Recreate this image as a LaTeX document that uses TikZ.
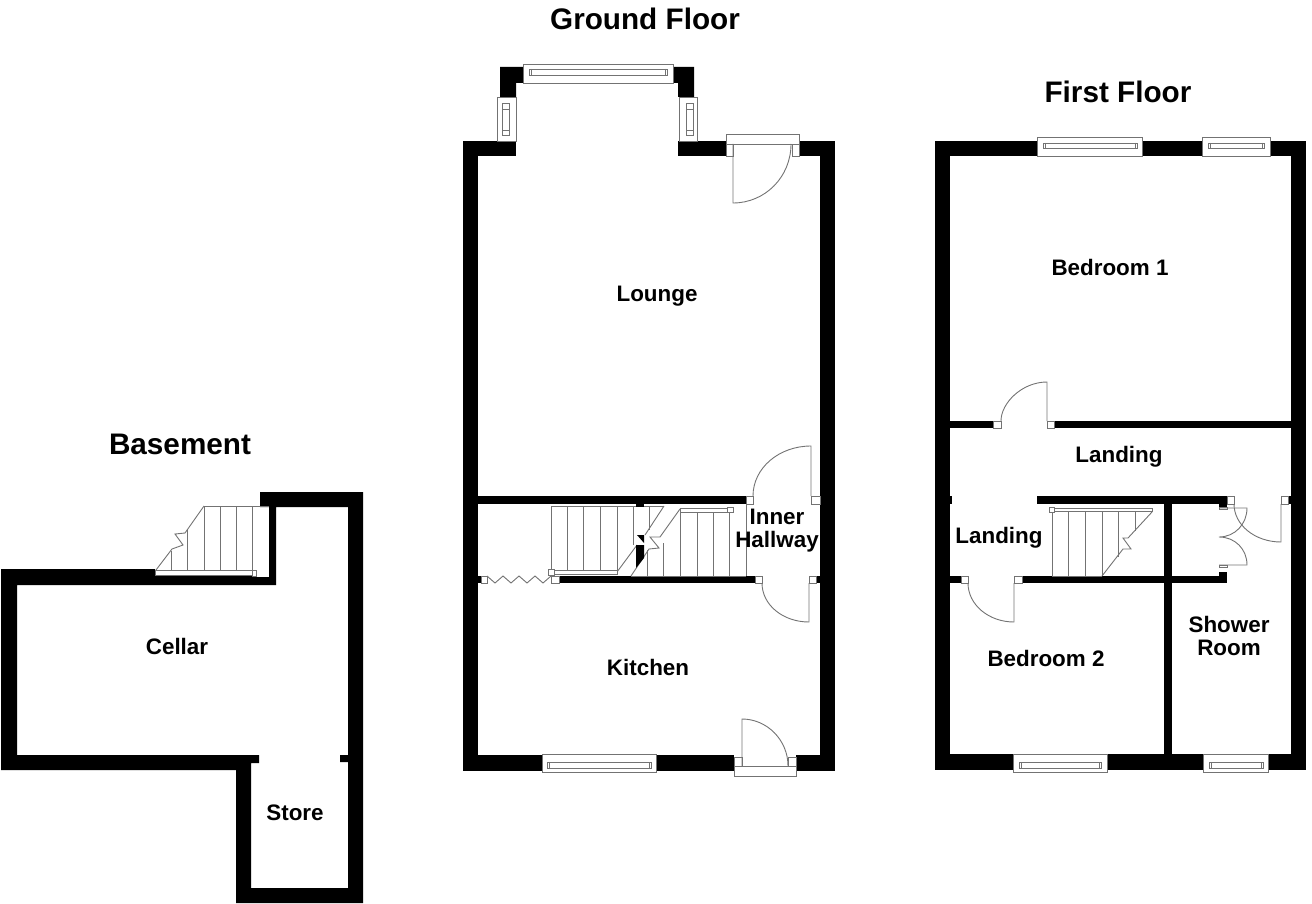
\documentclass[tikz,border=0pt]{standalone}
\usepackage{fontspec}
\setmainfont{Liberation Sans}
\tikzset{
  wall/.style={fill=black,draw=none},
  fine/.style={draw=black!55,line width=0.9pt,line join=miter},
  frame/.style={draw=black!55,line width=0.9pt,fill=white},
  title/.style={font=\fontsize{29.7}{32}\selectfont\bfseries,text=black,inner sep=0pt},
  room/.style={font=\fontsize{22.4}{22}\selectfont\bfseries,text=black,inner sep=0pt,align=center},
}
\newcommand{\wallbox}[4]{\fill[wall] (#1,#2) rectangle (#3,#4);}
\newcommand{\fbx}[4]{\draw[frame] (#1,#2) rectangle (#3,#4);}
\begin{document}
\begin{tikzpicture}[x=1pt,y=-1pt]
\useasboundingbox (0,0) rectangle (1312,904);

% ---------- Basement ----------
\fill[wall,even odd rule]
  (1,569) -- (155,569) -- (155,575) -- (256,575) -- (256,577) -- (269,577) -- (269,507) -- (260,507) -- (260,492) -- (363,492) -- (363,903) -- (236,903) -- (236,770) -- (1,770) -- cycle
  (17,585) -- (276,585) -- (276,507) -- (348,507) -- (348,755) -- (340,755) -- (340,762) -- (348,762) -- (348,888) -- (251,888) -- (251,763) -- (259,763) -- (259,755) -- (17,755) -- cycle;
% cellar stairs
\draw[fine] (204,506) -- (269,506);
\draw[fine] (171,570) -- (171,551);
\draw[fine] (187,570) -- (187,530);
\draw[fine] (204,570) -- (204,506);
\draw[fine] (220,570) -- (220,506);
\draw[fine] (236,570) -- (236,506);
\draw[fine] (252,570) -- (252,506);
\draw[fine] (156,570) -- (172,549) -- (183,545) -- (175,534) -- (185,533) -- (204,506);
\draw[frame] (155,570) rectangle (252,575);
\fbx{252}{570}{256}{576}

% ---------- Ground floor ----------
\wallbox{463}{141}{478}{771}
\wallbox{820}{141}{835}{771}
\wallbox{463}{141}{516}{156}
\wallbox{678}{141}{726}{156}
\wallbox{799}{141}{835}{156}
\fill[wall] (500,67) -- (523,67) -- (523,83) -- (516,83) -- (516,97) -- (500,97) -- cycle;
\fill[wall] (673,67) -- (694,67) -- (694,97) -- (678,97) -- (678,83) -- (673,83) -- cycle;
% bay windows
\fbx{523}{64}{673}{83}
\fbx{529}{69}{667}{75}
\draw[fine] (531,69) -- (531,75) (665,69) -- (665,75);
\fbx{497}{97}{516}{141}
\fbx{502}{103}{509}{135}
\draw[fine] (502,109) -- (509,109) (502,130) -- (509,130) ;
\fbx{679}{97}{697}{141}
\fbx{686}{103}{693}{135}
\draw[fine] (686,109) -- (693,109) (686,130) -- (693,130);
% lounge door
\fbx{726}{134}{799}{144}
\fbx{726}{144}{733}{156}
\fbx{792}{144}{799}{156}
\draw[fine] (733,144) -- (733,203) .. controls (765,203) and (791,177) .. (791,144);
% internal walls
\wallbox{478}{496}{746}{504}
\wallbox{559}{576}{755}{583}
\wallbox{478}{576}{481}{583}
\wallbox{816}{576}{820}{583}
\fbx{746}{496}{753}{504}
\fbx{811}{496}{820}{504}
\fbx{755}{576}{762}{583}
\fbx{809}{576}{816}{583}
\fbx{551}{576}{559}{583}
\fbx{481}{576}{487}{583}
\draw[fine] (753,496) .. controls (753,468) and (779,446) .. (811,446) -- (811,496);
\draw[fine] (762,583) .. controls (762,605) and (783,622) .. (809,622) -- (809,583);
% bifold
\draw[fine] (487,576) -- (495,583) -- (503,576) -- (511,583) -- (519,576) -- (527,583) -- (535,576) -- (543,583) -- (551,576);
% stairs: first flight
\draw[fine] (551,506) -- (664,506);
\foreach \x in {551,567,583,600,617} {\draw[fine] (\x,506) -- (\x,570);}
\draw[fine] (633,506) -- (633,545);
\draw[fine] (649,506) -- (649,530);
\draw[fine] (664,506) -- (645,535) (637,545) -- (617,572);
\draw[frame] (551,570) rectangle (617,574);
\fbx{548}{569}{554}{575}
% stairs: second flight
\draw[fine] (631,576) -- (746,576);
\draw[fine] (680,510) -- (680,576);
\draw[fine] (697,510) -- (697,576);
\draw[fine] (713,510) -- (713,576);
\draw[fine] (729,510) -- (729,576);
\draw[fine] (746,504) -- (746,576);
\draw[fine] (663,543) -- (663,576);
\draw[fine] (647,550) -- (647,576);
\draw[frame] (680,508) rectangle (729,512);
\fbx{727}{507}{733}{512}
\draw[fine] (680,509) -- (660,537) -- (650,537) -- (659,548) -- (649,549) -- (631,576);
% central pier
\fill[wall] (636,504) -- (644,504) -- (644,507) -- (636,507) -- cycle;
\fill[wall] (636,545) -- (644,545) -- (644,558) -- (636,568) -- cycle;
\fill[wall] (637,535) -- (644,535) -- (644,543) -- cycle;
% kitchen wall
\wallbox{463}{755}{542}{771}
\wallbox{656}{755}{734}{771}
\wallbox{796}{755}{835}{771}
\fbx{542}{754}{656}{772}
\fbx{547}{762}{651}{768}
\draw[fine] (549,762) -- (549,768) (649,762) -- (649,768);
\fbx{734}{766}{796}{776}
\fbx{734}{757}{742}{766}
\fbx{788}{757}{796}{766}
\draw[fine] (742,766) -- (742,719) .. controls (767,719) and (788,740) .. (788,766);

% ---------- First floor ----------
\wallbox{935}{141}{950}{770}
\wallbox{1291}{141}{1306}{770}
\wallbox{935}{141}{1306}{156}
\wallbox{935}{754}{1306}{770}
\fbx{1037}{137}{1142}{156}
\fbx{1043}{143}{1137}{148}
\draw[fine] (1045,143) -- (1045,148) (1135,143) -- (1135,148);
\fbx{1202}{137}{1270}{156}
\fbx{1208}{143}{1264}{148}
\draw[fine] (1210,143) -- (1210,148) (1262,143) -- (1262,148);
\fbx{1013}{754}{1107}{772}
\fbx{1019}{762}{1101}{768}
\draw[fine] (1021,762) -- (1021,768) (1099,762) -- (1099,768);
\fbx{1203}{754}{1268}{772}
\fbx{1209}{762}{1263}{768}
\draw[fine] (1211,762) -- (1211,768) (1261,762) -- (1261,768);
% bedroom 1 wall
\wallbox{950}{421}{993}{428}
\wallbox{1054}{421}{1291}{428}
\fbx{993}{421}{1001}{428}
\fbx{1047}{421}{1054}{428}
\draw[fine] (1001,421) .. controls (1001,403) and (1022,382) .. (1047,382) -- (1047,421);
% landing walls
\wallbox{950}{496}{952}{504}
\wallbox{1037}{496}{1227}{504}
\wallbox{1219}{504}{1227}{507}
\wallbox{1164}{504}{1172}{754}
\wallbox{950}{576}{961}{583}
\wallbox{1022}{576}{1227}{583}
\wallbox{1219}{572}{1227}{576}
\wallbox{1288}{496}{1291}{504}
\fbx{961}{576}{968}{583}
\fbx{1014}{576}{1022}{583}
\fbx{1227}{496}{1234}{504}
\fbx{1281}{496}{1288}{504}
\draw[fine] (968,583) .. controls (968,605) and (989,622) .. (1014,622) -- (1014,583);
\draw[fine] (1234,504) .. controls (1234,525) and (1255,542) .. (1281,542) -- (1281,504);
% double doors
\draw[frame] (1219,507) rectangle (1227,509);
\draw[fine] (1219,508) -- (1247,508) .. controls (1247,524) and (1235,537) .. (1219,537)
  .. controls (1235,537) and (1247,549) .. (1247,565) -- (1219,565);
\draw[frame] (1219,565) rectangle (1227,567);
% first-floor stairs
\foreach \x/\y in {1052/576,1068/576,1085/576,1102/576,1118/557,1135/531} {\draw[fine] (\x,511) -- (\x,\y);}
\draw[fine] (1052,576) -- (1102,576);
\draw[fine] (1152,512) -- (1128,538) -- (1123,538) -- (1131,549) -- (1123,549) -- (1102,576);
\draw[frame] (1052,508) rectangle (1152,511);
\fbx{1049}{507}{1054}{512}

% ---------- Labels ----------
\node[title] (tground) at (645,19) {Ground Floor};
\node[title] (tfirst) at (1118,92) {First Floor};
\node[title] (tbase) at (180,444) {Basement};
\node[room] (lounge) at (657,296) {Lounge};
\node[room] (kitchen) at (648,667) {Kitchen};
\node[room] (hall) at (777,531) {Inner\\[1pt]Hallway};
\node[room] (bed1) at (1110,267) {Bedroom 1};
\node[room] (bed2) at (1046,658) {Bedroom 2};
\node[room] (land1) at (1119,457) {Landing};
\node[room] (land2) at (999,538) {Landing};
\node[room] (shower) at (1229,636) {Shower\\[0.5pt]Room};
\node[room] (cellar) at (177,646) {Cellar};
\node[room] (store) at (295,812.5) {Store};
\end{tikzpicture}
\end{document}
